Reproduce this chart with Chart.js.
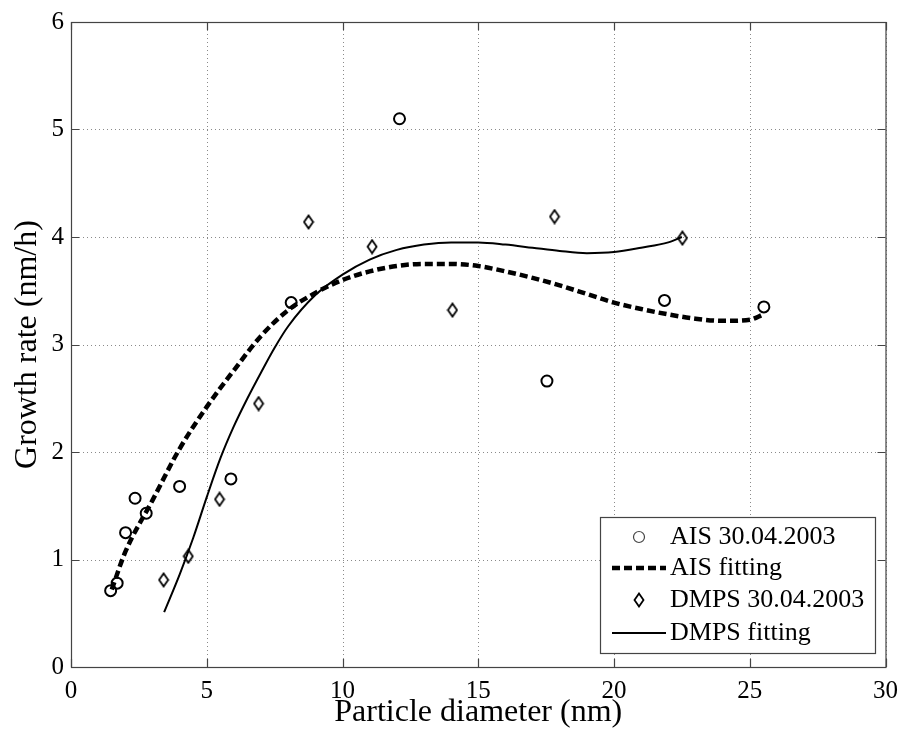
<!DOCTYPE html>
<html lang="en">
<head>
    <meta charset="UTF-8">
    <title>Growth rate vs particle diameter</title>
    <script src="https://cdn.jsdelivr.net/npm/chart.js"></script>
    <style>
        html, body { margin: 0; padding: 0; background: #fff; }
        .chart-container { width: 907px; height: 737px; position: relative; }
    </style>
</head>
<body>
    <div class="chart-container">
        <canvas id="grChart"></canvas>
    </div>

    <script>
        // Measured points
        const aisX = [1.46, 1.70, 2.01, 2.36, 2.77, 4.00, 5.89, 8.11, 12.10, 17.53, 21.86, 25.52];
        const aisY = [0.71, 0.78, 1.25, 1.57, 1.43, 1.68, 1.75, 3.39, 5.10, 2.66, 3.41, 3.35];
        const dmpsX = [3.41, 4.32, 5.47, 6.91, 8.75, 11.09, 14.05, 17.81, 22.52];
        const dmpsY = [0.81, 1.03, 1.56, 2.45, 4.14, 3.91, 3.32, 4.19, 3.99];

        // Fitted curves
        const aisFitX = [1.5, 2, 3, 4, 5, 6, 7, 8, 9, 10, 11, 12, 13, 14, 15, 16, 17, 18, 19, 20, 21, 22, 23, 24, 25, 25.5];
        const aisFitY = [0.72, 1.07, 1.55, 2.03, 2.42, 2.76, 3.08, 3.32, 3.48, 3.60, 3.68, 3.73, 3.75, 3.75, 3.73, 3.68, 3.62, 3.55, 3.47, 3.39, 3.33, 3.28, 3.24, 3.22, 3.23, 3.28];
        const dmpsFitX = [3.43, 4, 4.5, 5, 5.5, 6, 6.5, 7, 7.5, 8, 9, 10, 11, 12, 13, 14, 15, 16, 17, 18, 19, 20, 21, 22, 22.5];
        const dmpsFitY = [0.51, 0.86, 1.20, 1.58, 1.94, 2.24, 2.50, 2.74, 2.97, 3.17, 3.46, 3.65, 3.79, 3.88, 3.93, 3.95, 3.95, 3.93, 3.90, 3.87, 3.85, 3.86, 3.90, 3.95, 4.00];

        const xTicks = [0, 5, 10, 15, 20, 25, 30];
        const yTicks = [0, 1, 2, 3, 4, 5, 6];

        const FONT = '"Liberation Serif", "Times New Roman", serif';

        function toPoints(xs, ys) {
            return xs.map((x, i) => ({ x: x, y: ys[i] }));
        }

        // MATLAB-like thin diamond marker
        const diamond = document.createElement('canvas');
        diamond.width = 12;
        diamond.height = 16;
        (function () {
            const c = diamond.getContext('2d');
            c.strokeStyle = '#000';
            c.lineWidth = 1.8;
            c.beginPath();
            c.moveTo(6, 1.5);
            c.lineTo(10.5, 8);
            c.lineTo(6, 14.5);
            c.lineTo(1.5, 8);
            c.closePath();
            c.stroke();
        })();

        // grid, box and inward ticks
        const frame = {
            id: 'frame',
            beforeDatasetsDraw(chart) {
                const { ctx, chartArea: a, scales: { x, y } } = chart;
                ctx.save();
                ctx.strokeStyle = '#8a8a8a';
                ctx.lineWidth = 1;
                ctx.setLineDash([1, 3]);
                ctx.beginPath();
                xTicks.forEach(v => {
                    const px = Math.round(x.getPixelForValue(v)) + 0.5;
                    ctx.moveTo(px, a.top);
                    ctx.lineTo(px, a.bottom);
                });
                yTicks.forEach(v => {
                    const py = Math.round(y.getPixelForValue(v)) + 0.5;
                    ctx.moveTo(a.left, py);
                    ctx.lineTo(a.right, py);
                });
                ctx.stroke();
                ctx.restore();
            },
            afterDatasetsDraw(chart) {
                const { ctx, chartArea: a, scales: { x, y } } = chart;
                const t = 8;
                ctx.save();
                ctx.strokeStyle = '#444';
                ctx.lineWidth = 1.2;
                ctx.setLineDash([]);
                ctx.strokeRect(a.left + 0.5, a.top + 0.5, a.right - a.left, a.bottom - a.top);
                ctx.beginPath();
                xTicks.forEach(v => {
                    const px = Math.round(x.getPixelForValue(v)) + 0.5;
                    ctx.moveTo(px, a.bottom); ctx.lineTo(px, a.bottom - t);
                    ctx.moveTo(px, a.top); ctx.lineTo(px, a.top + t);
                });
                yTicks.forEach(v => {
                    const py = Math.round(y.getPixelForValue(v)) + 0.5;
                    ctx.moveTo(a.left, py); ctx.lineTo(a.left + t, py);
                    ctx.moveTo(a.right, py); ctx.lineTo(a.right - t, py);
                });
                ctx.stroke();
                ctx.restore();
            }
        };

        // legend box inside the plot, lower right
        const boxLegend = {
            id: 'boxLegend',
            afterDraw(chart) {
                const ctx = chart.ctx;
                const box = { left: 600, top: 517, right: 875, bottom: 653 };
                const rows = [537, 568, 600, 633];
                ctx.save();
                ctx.fillStyle = '#fff';
                ctx.fillRect(box.left, box.top, box.right - box.left, box.bottom - box.top);
                ctx.strokeStyle = '#444';
                ctx.lineWidth = 1.2;
                ctx.strokeRect(box.left + 0.5, box.top + 0.5, box.right - box.left, box.bottom - box.top);
                chart.data.datasets.forEach((ds, i) => {
                    const yy = rows[i];
                    if (ds.showLine) {
                        ctx.strokeStyle = ds.borderColor;
                        ctx.lineWidth = ds.borderWidth;
                        ctx.setLineDash(ds.borderDash || []);
                        ctx.beginPath();
                        ctx.moveTo(612, yy);
                        ctx.lineTo(666, yy);
                        ctx.stroke();
                        ctx.setLineDash([]);
                    } else {
                        Chart.helpers.drawPoint(ctx, {
                            pointStyle: ds.pointStyle,
                            radius: ds.pointRadius,
                            borderWidth: ds.borderWidth,
                            rotation: 0
                        }, 639, yy);
                    }
                    ctx.fillStyle = '#000';
                    ctx.font = '26px ' + FONT;
                    ctx.textBaseline = 'middle';
                    ctx.textAlign = 'left';
                    ctx.fillText(ds.label, 670, yy);
                });
                ctx.restore();
            }
        };

        const ctx = document.getElementById('grChart').getContext('2d');
        new Chart(ctx, {
            type: 'scatter',
            data: {
                datasets: [
                    {
                        label: 'AIS 30.04.2003',
                        data: toPoints(aisX, aisY),
                        showLine: false,
                        pointStyle: 'circle',
                        pointRadius: 5.5,
                        borderColor: '#000',
                        backgroundColor: 'rgba(0,0,0,0)',
                        borderWidth: 2
                    },
                    {
                        label: 'AIS fitting',
                        data: toPoints(aisFitX, aisFitY),
                        showLine: true,
                        pointRadius: 0,
                        borderColor: '#000',
                        borderWidth: 4.5,
                        borderDash: [8, 4],
                        cubicInterpolationMode: 'monotone'
                    },
                    {
                        label: 'DMPS 30.04.2003',
                        data: toPoints(dmpsX, dmpsY),
                        showLine: false,
                        pointStyle: diamond,
                        pointRadius: 6,
                        borderColor: '#000',
                        borderWidth: 1.8
                    },
                    {
                        label: 'DMPS fitting',
                        data: toPoints(dmpsFitX, dmpsFitY),
                        showLine: true,
                        pointRadius: 0,
                        borderColor: '#000',
                        borderWidth: 2,
                        cubicInterpolationMode: 'monotone'
                    }
                ]
            },
            options: {
                responsive: true,
                maintainAspectRatio: false,
                animation: false,
                layout: { padding: { top: 20, right: 15, left: 0, bottom: 0 } },
                plugins: {
                    legend: { display: false },
                    tooltip: { enabled: false }
                },
                scales: {
                    x: {
                        type: 'linear',
                        min: 0,
                        max: 30,
                        afterFit: s => { s.height = 70; },
                        afterBuildTicks: s => { s.ticks = xTicks.map(v => ({ value: v })); },
                        grid: { display: false, drawTicks: false },
                        border: { display: false },
                        ticks: {
                            color: '#000',
                            padding: 9,
                            maxRotation: 0,
                            font: { family: FONT, size: 25 }
                        },
                        title: {
                            display: true,
                            text: 'Particle diameter (nm)',
                            color: '#000',
                            font: { family: FONT, size: 32 },
                            padding: { top: 0, bottom: 5 }
                        }
                    },
                    y: {
                        type: 'linear',
                        min: 0,
                        max: 6,
                        afterFit: s => { s.width = 71; },
                        afterBuildTicks: s => { s.ticks = yTicks.map(v => ({ value: v })); },
                        grid: { display: false, drawTicks: false },
                        border: { display: false },
                        ticks: {
                            color: '#000',
                            padding: 7,
                            font: { family: FONT, size: 25 }
                        },
                        title: {
                            display: true,
                            text: 'Growth rate (nm/h)',
                            color: '#000',
                            font: { family: FONT, size: 32 },
                            padding: { top: 8, bottom: 0 }
                        }
                    }
                }
            },
            plugins: [frame, boxLegend]
        });
    </script>
</body>
</html>
